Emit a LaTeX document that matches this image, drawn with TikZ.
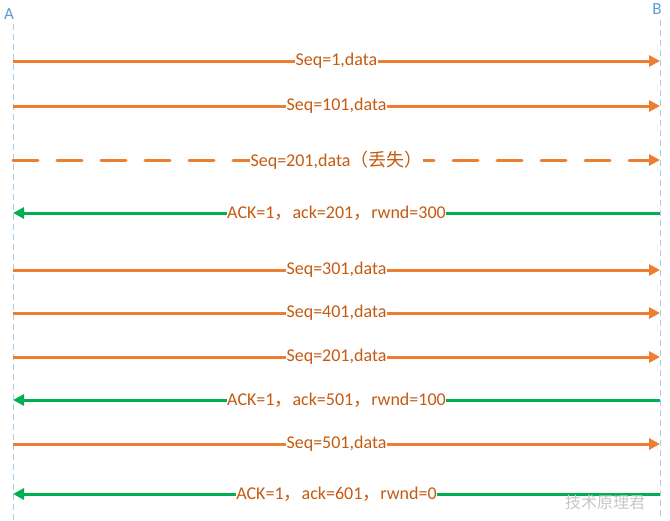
\documentclass[tikz,border=0pt]{standalone}
\usepackage{fontspec}
\setmainfont{Carlito}
\newfontfamily\cjk{Noto Sans CJK SC}
\usetikzlibrary{arrows.meta}
\definecolor{seqc}{HTML}{ED7D31}
\definecolor{ackc}{HTML}{00B050}
\definecolor{txtc}{HTML}{C55A11}
\definecolor{lifec}{HTML}{A9CCEA}
\definecolor{namec}{HTML}{5B9BD5}
\tikzset{
  lifeline/.style={draw=lifec, line width=1pt, dash pattern=on 6pt off 4pt},
  seqarrow/.style={draw=seqc, line width=3pt, -{Triangle[length=11pt,width=11pt]}},
  ackarrow/.style={draw=ackc, line width=3pt, -{Triangle[length=11pt,width=11pt]}},
  lostarrow/.style={seqarrow, line cap=round, dash pattern=on 25pt off 19pt},
  msg/.style={fill=white, text=txtc, inner sep=0.5pt, font=\fontsize{18}{18}\selectfont},
  endname/.style={text=namec, font=\fontsize{17}{17}\selectfont, inner sep=0pt},
  wmark/.style={text=black!22, font=\cjk\fontsize{16}{16}\selectfont, inner sep=0pt}
}
\begin{document}
\begin{tikzpicture}[x=1pt,y=-1pt]
\useasboundingbox (0,0) rectangle (670,520);
\node[endname] (nA) at (9,14) {A};
\node[endname] (nB) at (657,9) {B};
\coordinate (At) at (13,24); \coordinate (Ab) at (13,520);
\coordinate (Bt) at (660,20); \coordinate (Bb) at (660,520);
\draw[lifeline] (At) -- (Ab);
\draw[lifeline] (Bt) -- (Bb);
\foreach \i/\y in {1/61,2/106,3/160,4/213,5/270,6/313,7/357,8/400,9/444,10/494}{
  \coordinate (a\i) at (13,\y);
  \coordinate (b\i) at (660,\y);
}
\draw[seqarrow] (a1) -- (b1) node[msg, pos=0.5] (m1) {Seq=1,data};
\draw[seqarrow] (a2) -- (b2) node[msg, pos=0.5] (m2) {Seq=101,data};
\draw[lostarrow] (a3) -- (b3) node[msg, pos=0.5] (m3) {Seq=201,data{\cjk（丢失）}};
\draw[ackarrow] (b4) -- (a4) node[msg, pos=0.5] (m4) {ACK=1{\cjk，}ack=201{\cjk，}rwnd=300};
\draw[seqarrow] (a5) -- (b5) node[msg, pos=0.5] (m5) {Seq=301,data};
\draw[seqarrow] (a6) -- (b6) node[msg, pos=0.5] (m6) {Seq=401,data};
\draw[seqarrow] (a7) -- (b7) node[msg, pos=0.5] (m7) {Seq=201,data};
\draw[ackarrow] (b8) -- (a8) node[msg, pos=0.5] (m8) {ACK=1{\cjk，}ack=501{\cjk，}rwnd=100};
\draw[seqarrow] (a9) -- (b9) node[msg, pos=0.5] (m9) {Seq=501,data};
\draw[ackarrow] (b10) -- (a10) node[msg, pos=0.5] (m10) {ACK=1{\cjk，}ack=601{\cjk，}rwnd=0};
\node[wmark] (wm) at (605,502) {技术原理君};
\end{tikzpicture}
\end{document}
